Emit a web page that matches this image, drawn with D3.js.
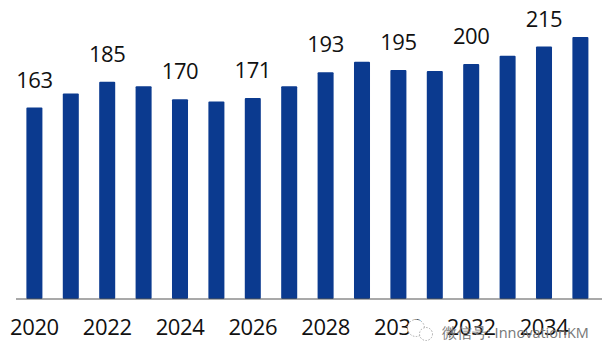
<!DOCTYPE html>
<html>
<head>
<meta charset="utf-8">
<script src="https://cdn.jsdelivr.net/npm/d3@7"></script>
<style>
  html, body { margin: 0; padding: 0; background: #fff; }
  svg { display: block; }
  text { font-family: "Open Sans", "Noto Sans", sans-serif; }
</style>
</head>
<body>
<script>
const years = d3.range(2020, 2036);
const values = [163, 175, 185, 181, 170, 168, 171, 181, 193, 202, 195, 194, 200, 207, 215, 223];
const tickYears = [2020, 2022, 2024, 2026, 2028, 2030, 2032, 2034];
const labelYears = [2020, 2022, 2024, 2026, 2028, 2030, 2032, 2034];

const width = 609, height = 359;

const svg = d3.select('body').append('svg')
    .attr('width', width)
    .attr('height', height);

const x = d3.scaleBand()
    .domain(years)
    .range([16.2, 598.6])
    .paddingInner(0.56)
    .paddingOuter(0.28);

const y = d3.scaleLinear()
    .domain([0, 254.5])
    .range([299, 0]);

// bars
svg.append('g')
  .selectAll('rect')
  .data(years)
  .join('rect')
    .attr('x', d => x(d))
    .attr('y', (d, i) => y(values[i]))
    .attr('width', x.bandwidth())
    .attr('height', (d, i) => y(0) - y(values[i]))
    .attr('rx', 1)
    .attr('fill', '#0b3a8f');

// value labels, every other year
svg.append('g')
  .selectAll('text')
  .data(labelYears)
  .join('text')
    .attr('x', d => x(d) + x.bandwidth() / 2)
    .attr('y', d => y(values[years.indexOf(d)]) - 19.8)
    .attr('text-anchor', 'middle')
    .attr('font-size', 22)
    .attr('letter-spacing', -0.4)
    .attr('fill', '#111')
    .text(d => values[years.indexOf(d)]);

// x axis
const axis = svg.append('g')
    .attr('transform', `translate(0,${y(0)})`)
    .call(d3.axisBottom(x).tickValues(tickYears).tickSize(0).tickPadding(20).tickFormat(d3.format('d')));
axis.select('.domain')
    .attr('d', 'M16,0H602')
    .attr('stroke', '#555')
    .attr('stroke-width', 1.2);
axis.selectAll('text')
    .attr('font-size', 22)
    .attr('font-family', '"Open Sans", sans-serif')
    .attr('letter-spacing', -0.4)
    .attr('fill', '#111');

// watermark
const mark = svg.append('g');
mark.selectAll('circle')
  .data([[416, 328, 8.5], [426, 334, 6.5]])
  .join('circle')
    .attr('cx', d => d[0]).attr('cy', d => d[1]).attr('r', d => d[2])
    .attr('fill', '#fff')
    .attr('stroke', '#aaa')
    .attr('stroke-width', 1)
    .attr('stroke-dasharray', '1.5,1.5');
mark.append('text')
    .attr('x', 442).attr('y', 337.5)
    .attr('font-family', '"Noto Sans CJK SC", sans-serif')
    .attr('font-size', 14.5)
    .attr('fill', '#777')
    .text('微信号: InnovationKM');
</script>
</body>
</html>
